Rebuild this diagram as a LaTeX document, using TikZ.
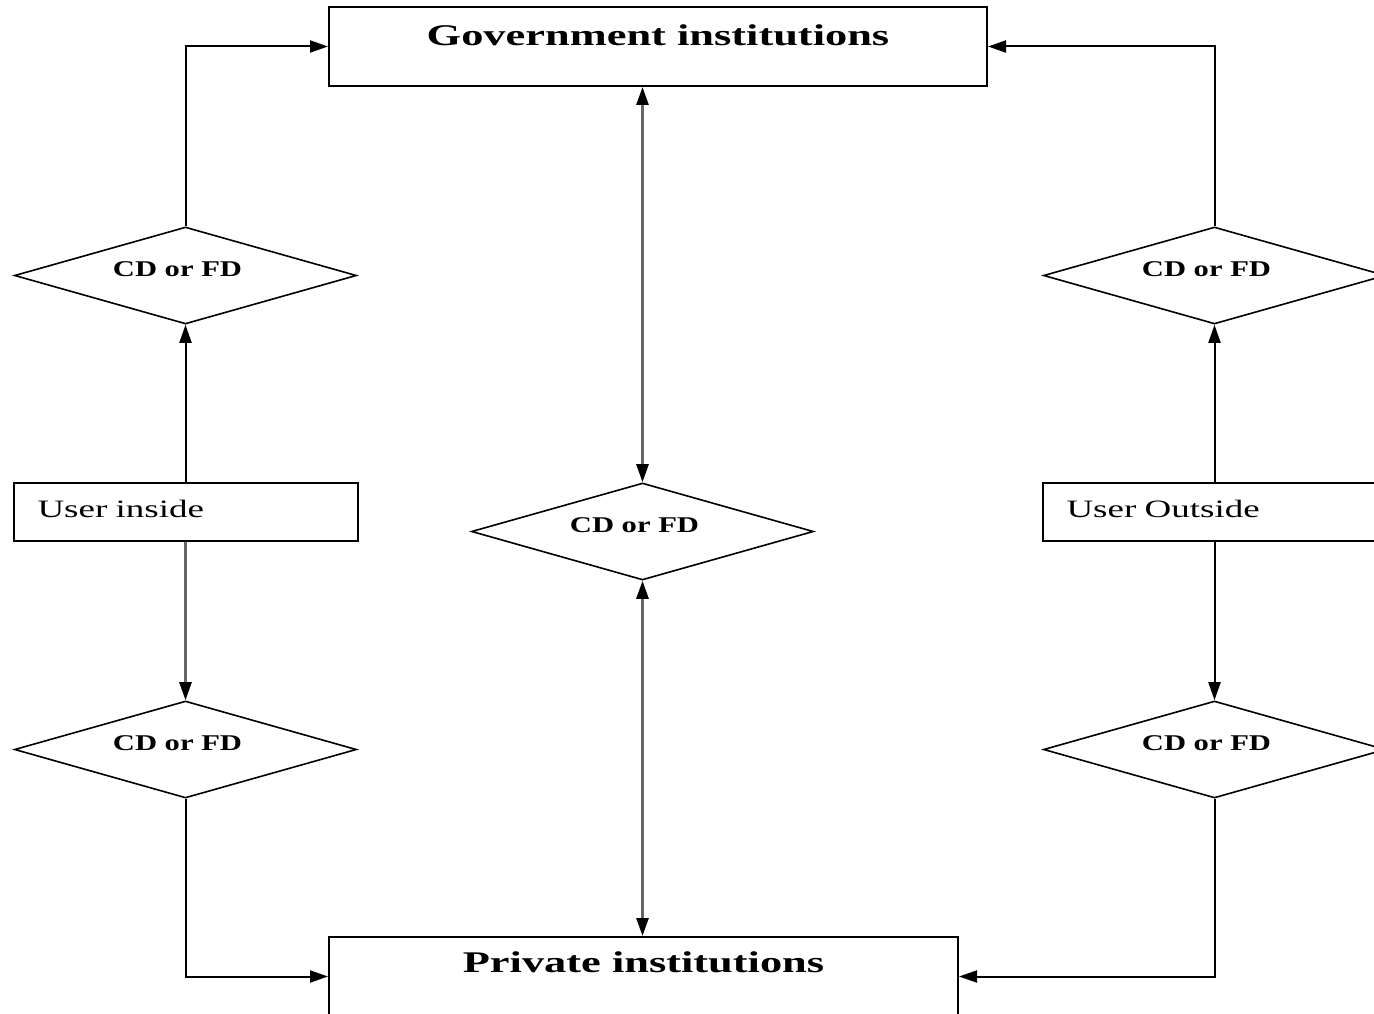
\documentclass[tikz,border=0pt]{standalone}
\usepackage{fontspec}
\setmainfont{Liberation Serif}
\newfontfamily\wideserif[FakeStretch=1.48]{Liberation Serif}
\newfontfamily\cdserif[FakeStretch=1.36]{Liberation Serif}
\usetikzlibrary{arrows.meta,shapes.geometric}

\tikzset{
  inst/.style={draw, line width=2pt, inner sep=0pt, font=\wideserif\bfseries\fontsize{30}{36}\selectfont},
  decision/.style={diamond, draw, line width=1.6pt, shape aspect=3.5, minimum width=342, minimum height=97, inner sep=0pt, text depth=12pt, font=\cdserif\bfseries\fontsize{22.5}{27}\selectfont},
  user/.style={draw, line width=2pt, minimum width=344, minimum height=58, inner xsep=24pt, inner ysep=0pt, text width=296pt, align=left, text depth=7pt, font=\wideserif\fontsize{25}{30}\selectfont},
  greyline/.style={draw=black!60, line width=2.6pt}
}

\begin{document}
\begin{tikzpicture}[x=1pt, y=-1pt, ->, >={Triangle[length=18pt,width=12pt,color=black]}, line width=2pt]
\useasboundingbox (0,0) rectangle (1374,1014);
\clip (0,0) rectangle (1374,1014);

\node[inst, minimum width=658, text height=39pt, text depth=40pt] (gov) at (658,46.5) {Government institutions};
\node[inst, minimum width=629, text height=35pt, text depth=44pt] (priv) at (643.5,976.5) {Private institutions};

\node[decision] (lt) at (185.5,275.5) {CD or FD\hspace*{16pt}};
\node[user] (uin) at (185.5,512) {User inside};
\node[decision] (lb) at (185.5,749.5) {CD or FD\hspace*{16pt}};

\node[decision] (mid) at (642.5,531.5) {CD or FD\hspace*{16pt}};

\node[decision] (rt) at (1214.5,275.5) {CD or FD\hspace*{16pt}};
\node[user] (uout) at (1214.5,512) {User Outside};
\node[decision] (rb) at (1214.5,749.5) {CD or FD\hspace*{16pt}};

% left column
\draw (lt.north) |- (gov.west);
\path (uin) edge (lt)
      (uin) edge[greyline] (lb);
\draw (lb.south) |- (priv.west);

% right column
\draw (rt.north) |- (gov.east);
\path (uout) edge (rt)
      (uout) edge (rb);
\draw (rb.south) |- (priv.east);

% middle
\draw[<->, greyline] (mid.north) -- (mid.north |- gov.south);
\draw[<->, greyline] (mid.south) -- (mid.south |- priv.north);

\end{tikzpicture}
\end{document}
